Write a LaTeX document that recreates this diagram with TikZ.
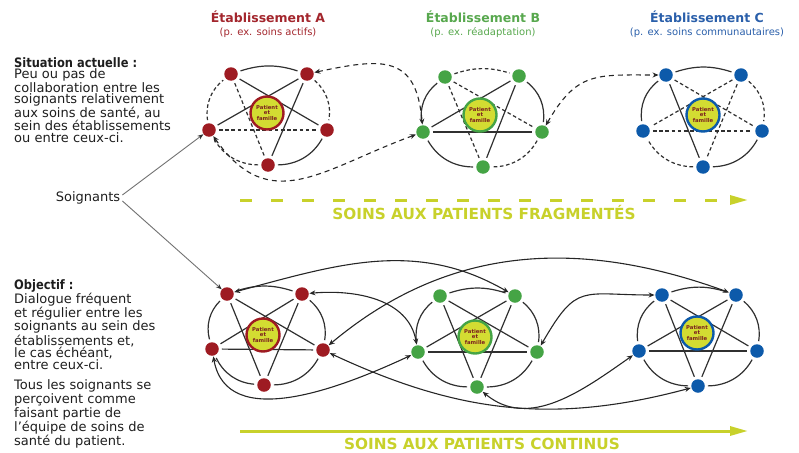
\documentclass[tikz,border=0pt]{standalone}
\usepackage{fontspec}
\setmainfont{DejaVu Sans}
\newfontfamily\hdfont{DejaVu Sans}[FakeStretch=0.88]
\usetikzlibrary{arrows.meta}
\definecolor{colA}{HTML}{9E1B22}
\definecolor{colB}{HTML}{45A445}
\definecolor{colC}{HTML}{0D5AAA}
\definecolor{txtA}{HTML}{A3262D}
\definecolor{txtB}{HTML}{58A84E}
\definecolor{txtC}{HTML}{2A5FAA}
\definecolor{patfill}{HTML}{D3DC32}
\definecolor{pattext}{HTML}{7A1F1F}
\definecolor{yl}{HTML}{C8D12B}
\definecolor{lngray}{HTML}{303030}
\definecolor{crv}{HTML}{262626}
\definecolor{soggray}{HTML}{707070}
\definecolor{bodytxt}{HTML}{1E1E1E}
\tikzset{
  nd/.style={circle,inner sep=0pt,minimum size=13.5pt,draw=none},
  pat/.style={circle,inner sep=0pt,minimum size=33pt,line width=2.4pt,fill=patfill,text=pattext,align=center,font=\bfseries\fontsize{5.3}{5.6}\selectfont},
  ln/.style={line width=1.2pt,draw=lngray,shorten >=3pt,shorten <=3pt},
  dsh/.style={dash pattern=on 3.6pt off 2.6pt},
  icurve/.style={line width=1.1pt,draw=crv,{Stealth[length=6pt,width=5pt]}-{Stealth[length=6pt,width=5pt]},shorten >=0.5pt,shorten <=0.5pt},
  dcurve/.style={icurve,dash pattern=on 5pt off 4pt},
  garrow/.style={line width=0.9pt,draw=soggray,-{Stealth[length=6pt,width=4.5pt,color=black!80]}},
  hdr/.style={font=\bfseries\fontsize{12.5}{14}\selectfont},
  sub/.style={font=\fontsize{10}{12}\selectfont},
  body/.style={anchor=north west,align=left,inner sep=0pt,text=bodytxt,font=\fontsize{13}{11.5}\selectfont},
  band/.style={line width=3pt,draw=yl,-{Triangle[length=18pt,width=9pt]}},
  bandtxt/.style={text=yl,font=\bfseries\fontsize{15.3}{17}\selectfont}
}
% nodes of a cluster: prefix, colour, TL, TR, L, R, B
\newcommand\clnodes[7]{%
  \node[nd,fill=#2] (#1TL) at (#3) {};
  \node[nd,fill=#2] (#1TR) at (#4) {};
  \node[nd,fill=#2] (#1L) at (#5) {};
  \node[nd,fill=#2] (#1R) at (#6) {};
  \node[nd,fill=#2] (#1B) at (#7) {};
}
% outer arcs: TL-TR, TR-R, R-B, B-L, L-TL
\newcommand\clarcs[6]{%
  \draw[ln,#2] (#1TL) to[bend left=18] (#1TR);
  \draw[ln,#3] (#1TR) to[bend left=30] (#1R);
  \draw[ln,#4] (#1R) to[bend left=30] (#1B);
  \draw[ln,#5] (#1B) to[bend left=30] (#1L);
  \draw[ln,#6] (#1L) to[bend left=30] (#1TL);
}
% star: TL-R, TR-L, TR-B, TL-B, L-R
\newcommand\clstar[6]{%
  \draw[ln,#2] (#1TL) -- (#1R);
  \draw[ln,#3] (#1TR) -- (#1L);
  \draw[ln,#4] (#1TR) -- (#1B);
  \draw[ln,#5] (#1TL) -- (#1B);
  \draw[ln,#6] (#1L) -- (#1R);
}
\newcommand\clpat[3]{%
  \node[pat,draw=#2] (#1P) at (#3) {Patient\\et\\famille};
}
\begin{document}
\begin{tikzpicture}[x=1pt,y=1pt]
\useasboundingbox (0,0) rectangle (799,-452);

% headers
\node[hdr,text=txtA] (hA) at (268,-17) {Établissement A};
\node[sub,text=txtA] (sA) at (268,-33) {(p. ex. soins actifs)};
\node[hdr,text=txtB] (hB) at (483,-17) {Établissement B};
\node[sub,text=txtB] (sB) at (483,-33) {(p. ex. réadaptation)};
\node[hdr,text=txtC] (hC) at (707,-17) {Établissement C};
\node[sub,text=txtC] (sC) at (707,-33) {(p. ex. soins communautaires)};

% left texts
\node[body] (t1) at (14,-57) {{\hdfont\bfseries Situation actuelle :}\\
Peu ou pas de\\ collaboration entre les\\ soignants relativement\\
aux soins de santé, au\\ sein des établissements\\ ou entre ceux-ci.};
\node[body] (t2) at (14,-279) {{\hdfont\bfseries Objectif :}\\
Dialogue fréquent\\ et régulier entre les\\ soignants au sein des\\
établissements et,\\ le cas échéant,\\ entre ceux-ci.\\[9pt]
Tous les soignants se\\ perçoivent comme\\ faisant partie de\\
l’équipe de soins de\\ santé du patient.};
\node[text=bodytxt,font=\fontsize{13}{15}\selectfont,inner sep=2pt] (soig) at (88,-198) {Soignants};

% cluster nodes
\clnodes{tA}{colA}{231,-74}{307,-74}{209,-130}{327,-130}{268,-165}
\clnodes{tB}{colB}{445,-77}{519,-76}{423,-132}{542,-132}{483,-167}
\clnodes{tC}{colC}{666,-75}{741,-75}{643,-131}{762,-131}{703,-167}
\clnodes{bA}{colA}{227,-294}{302,-294}{212,-349}{323,-350}{264,-385}
\clnodes{bB}{colB}{440,-296}{515,-296}{418,-352}{537,-352}{477,-387}
\clnodes{bC}{colC}{662,-295}{736,-295}{639,-351}{757,-351}{698,-386}

% arcs and stars
\clarcs{tA}{solid}{dsh}{solid}{dsh}{dsh}
\clstar{tA}{solid}{solid}{solid}{dsh}{dsh}
\clarcs{tB}{dsh}{solid}{dsh}{solid}{solid}
\clstar{tB}{dsh}{solid}{solid}{dsh}{solid}
\clarcs{tC}{solid}{dsh}{solid}{dsh}{solid}
\clstar{tC}{dsh}{dsh}{dsh}{solid}{dsh}
\clarcs{bA}{solid}{solid}{solid}{solid}{solid}
\clstar{bA}{solid}{solid}{solid}{solid}{solid}
\clarcs{bB}{solid}{solid}{solid}{solid}{solid}
\clstar{bB}{solid}{solid}{solid}{solid}{solid}
\clarcs{bC}{solid}{solid}{solid}{solid}{solid}
\clstar{bC}{solid}{solid}{solid}{solid}{solid}

% patient circles
\clpat{tA}{colA}{267,-113}
\clpat{tB}{colB}{480,-115}
\clpat{tC}{colC}{703,-115}
\clpat{bA}{colA}{263,-335}
\clpat{bB}{colB}{475,-337}
\clpat{bC}{colC}{697,-333}

% top (fragmented) links
\draw[dcurve] (tATR) to[out=12,in=95,looseness=1.5] (tBL);
\draw[dcurve] (tAL) to[out=-55,in=200,looseness=1.25] (tBL);
\draw[dcurve] (tBR) to[out=60,in=180,looseness=1.3] (tCTL);

% bottom (continuous) links
\draw[icurve] (bATL) to[out=15,in=150] (bBTR);
\draw[icurve] (bATR) to[out=5,in=100] (bBL);
\draw[icurve] (bAR) to[out=40,in=160] (bCTR);
\draw[icurve] (bBR) to[out=60,in=180,looseness=1.5] (bCTL);
\draw[icurve] (bAL) to[out=-80,in=205] (bBL);
\draw[icurve] (bAR) to[out=-25,in=195] (bCB);
\draw[icurve] (bBB) to[out=-40,in=215] (bCL);

% Soignants arrows
\draw[garrow] ([yshift=3pt]soig.east) -- (tAL);
\draw[garrow] ([yshift=-3pt]soig.east) -- (bATL);

% bands
\coordinate (fs) at (240,-200);
\coordinate (fe) at (748,-200);
\draw[band,dash pattern=on 12pt off 19pt] (fs) -- (fe);
\node[bandtxt] (ft) at (484,-213) {SOINS AUX PATIENTS FRAGMENTÉS};
\coordinate (cs) at (240,-431);
\coordinate (ce) at (748,-431);
\draw[band] (cs) -- (ce);
\node[bandtxt] (ct) at (482,-443.5) {SOINS AUX PATIENTS CONTINUS};
\end{tikzpicture}
\end{document}
